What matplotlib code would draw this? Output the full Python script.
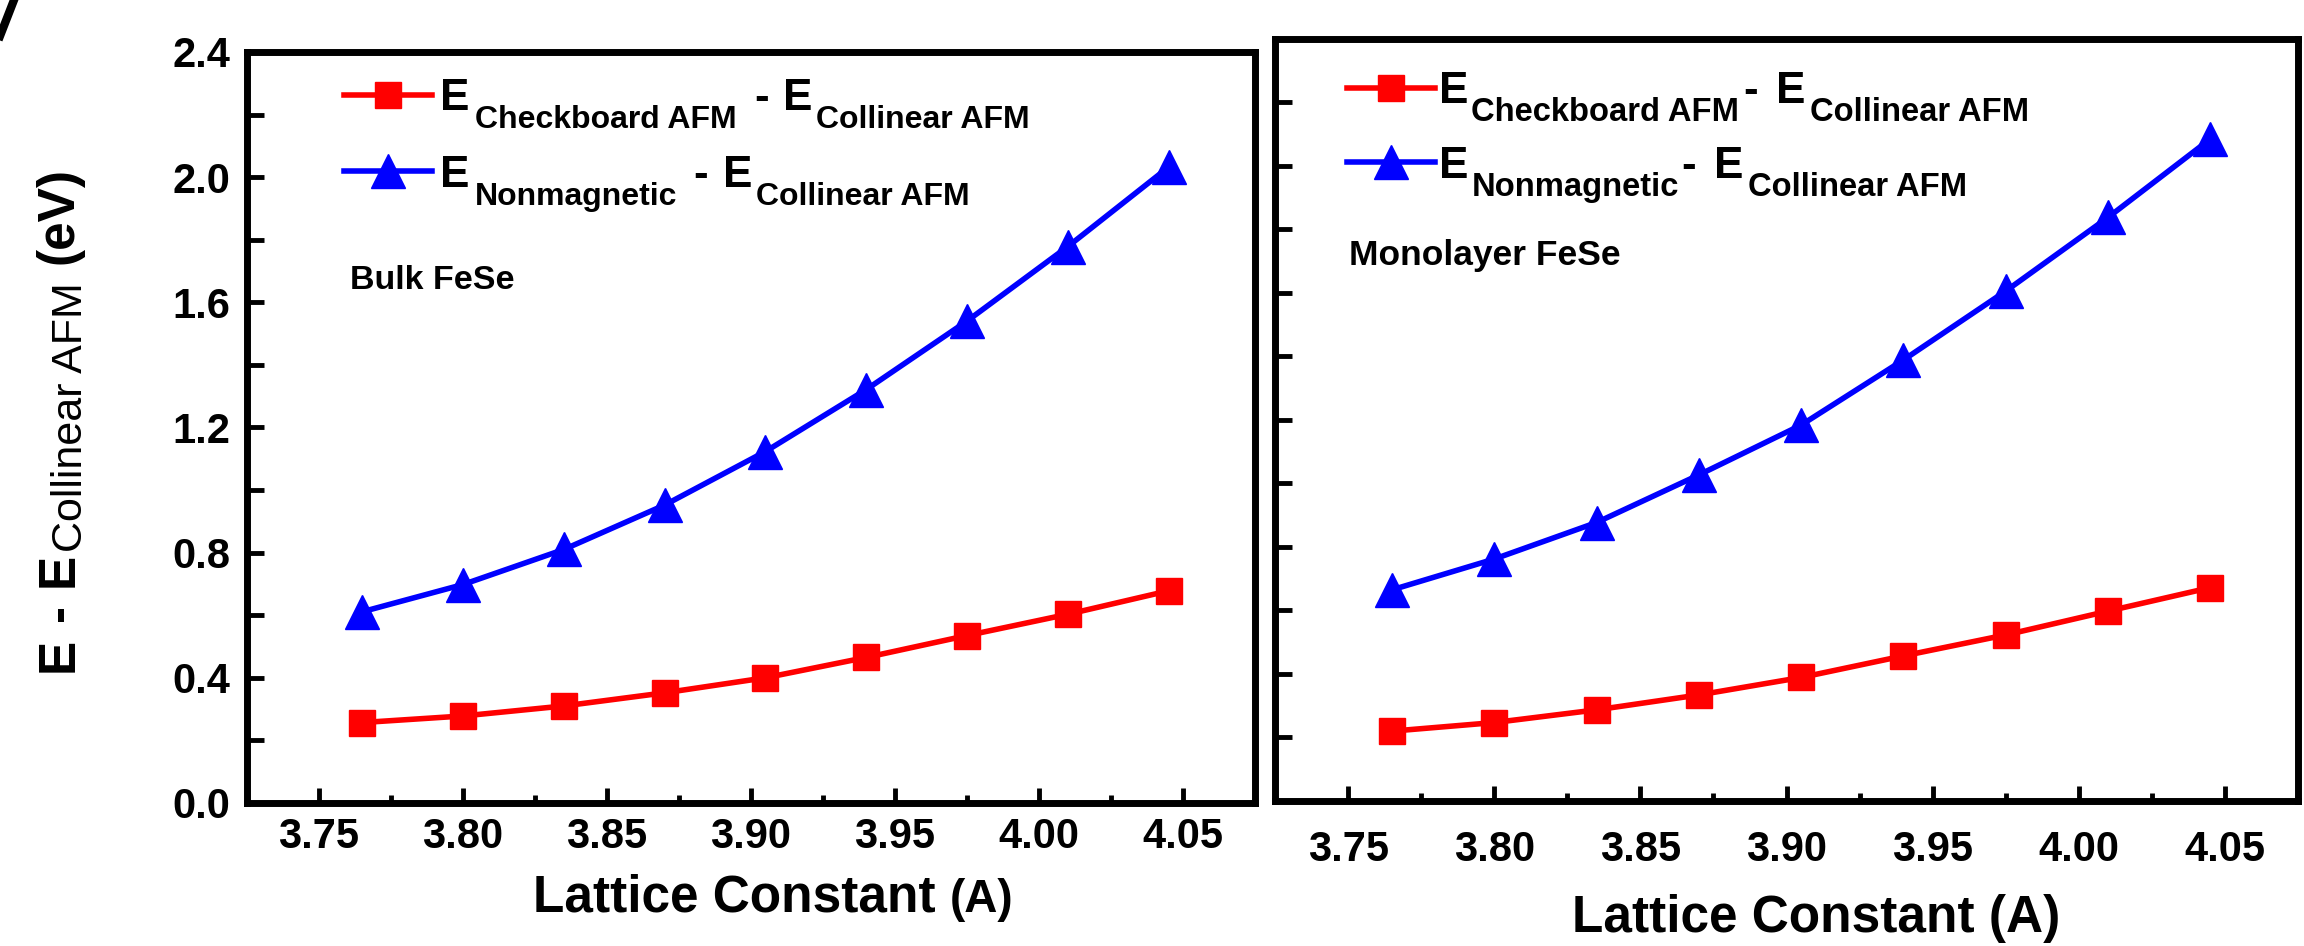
import matplotlib.pyplot as plt
from matplotlib.lines import Line2D
from matplotlib.ticker import MultipleLocator, FormatStrFormatter

plt.rcParams['font.family'] = ['Liberation Sans', 'DejaVu Sans']
plt.rcParams['font.weight'] = 'bold'

# lattice constant (A)
lattice = [3.765, 3.800, 3.835, 3.870, 3.905, 3.940, 3.975, 4.010, 4.045]

# bulk FeSe (eV)
bulk_checker = [0.257, 0.278, 0.310, 0.352, 0.400, 0.465, 0.535, 0.603, 0.678]
bulk_nonmag = [0.611, 0.698, 0.810, 0.952, 1.123, 1.321, 1.540, 1.778, 2.032]

# monolayer FeSe (eV)
mono_checker = [0.220, 0.247, 0.287, 0.334, 0.389, 0.457, 0.523, 0.598, 0.672]
mono_nonmag = [0.665, 0.762, 0.877, 1.027, 1.184, 1.389, 1.606, 1.838, 2.085]

x_ticks = [3.75, 3.80, 3.85, 3.90, 3.95, 4.00, 4.05]
y_ticks = [0.0, 0.4, 0.8, 1.2, 1.6, 2.0, 2.4]

# legend pieces after the leading "E": (text, size, dx pt, dy pt)
leg_bulk = [
    [('Checkboard AFM', 23, 4, -11.5), ('-', 31.7, 13, 0), ('E', 31.7, 10, 0),
     ('Collinear AFM', 23, 3, -11.5)],
    [('Nonmagnetic', 23, 4, -11.5), ('-', 31.7, 11.5, 0), ('E', 31.7, 11, 0),
     ('Collinear AFM', 23, 3, -11.5)],
]
leg_mono = [
    [('Checkboard AFM', 23.6, 2, -11.5), ('-', 31.7, 3, 0), ('E', 31.7, 13, 0),
     ('Collinear AFM', 23.6, 3, -11.5)],
    [('Nonmagnetic', 23.6, 2, -11.5), ('-', 31.7, 2, 0), ('E', 31.7, 13, 0),
     ('Collinear AFM', 23.6, 3, -11.5)],
]

# y label pieces after the first "E": (text, size, dx pt, gap pt, weight)
ylab_pieces = [('-', 37, 0, 12, 'bold'),
               ('E', 37, 0, 12, 'bold'),
               ('Collinear AFM', 31, 6.5, 1, 'normal'),
               ('(eV)', 37, 0, 13, 'bold')]


def style(ax):
    ax.set_xlim(3.725, 4.075)
    ax.set_ylim(0, 2.4)
    ax.set_xticks(x_ticks)
    ax.set_yticks(y_ticks)
    ax.xaxis.set_minor_locator(MultipleLocator(0.025))
    ax.yaxis.set_minor_locator(MultipleLocator(0.2))
    ax.xaxis.set_major_formatter(FormatStrFormatter('%.2f'))
    ax.yaxis.set_major_formatter(FormatStrFormatter('%.1f'))
    ax.tick_params(which='both', direction='in', top=False, right=False, width=3.5)
    ax.tick_params(axis='x', which='major', length=11)
    ax.tick_params(axis='x', which='minor', length=6)
    ax.tick_params(axis='y', which='both', length=12)
    for s in ax.spines.values():
        s.set_linewidth(5)


def legend_text(ax, leg, rows):
    # chain the subscripted label after each legend "E"
    for anchor, pieces in zip(leg.get_texts(), rows):
        prev = anchor
        for s, size, dx, dy in pieces:
            prev = ax.annotate(s, xy=(1, 0), xycoords=(prev, anchor),
                               xytext=(dx, dy), textcoords='offset points',
                               ha='left', va='bottom', fontsize=size,
                               fontweight='bold', zorder=6)


fig = plt.figure(figsize=(23.04, 9.46), dpi=100)
ax1 = fig.add_axes([0.1072, 0.1512, 0.4375, 0.7939])
ax2 = fig.add_axes([0.5534, 0.1533, 0.4440, 0.8055])

# left: bulk
l1, = ax1.plot(lattice, bulk_checker, color='#ff0000', lw=4, marker='s', ms=19)
l2, = ax1.plot(lattice, bulk_nonmag, color='#0000ff', lw=4, marker='^', ms=24)
style(ax1)
ax1.tick_params(axis='x', labelsize=30, pad=10)
ax1.tick_params(axis='y', labelsize=30, pad=12)
leg1 = ax1.legend([l1, l2], ['E', 'E'], loc='upper left', bbox_to_anchor=(0.096, 0.9647),
                  borderaxespad=0, borderpad=0, frameon=False, fontsize=31.7,
                  handlelength=2.0, handletextpad=0.18, labelspacing=0.80)
legend_text(ax1, leg1, leg_bulk)
ax1.text(0.102, 0.685, 'Bulk FeSe', transform=ax1.transAxes, fontsize=24.5,
         fontweight='bold', va='baseline', ha='left')
ax1.text(0.6835, -0.145, 'Lattice Constant', transform=ax1.transAxes, fontsize=37,
         fontweight='bold', ha='right', va='baseline')
ax1.text(0.6974, -0.145, '(A)', transform=ax1.transAxes, fontsize=33,
         fontweight='bold', ha='left', va='baseline')

# right: monolayer
m1, = ax2.plot(lattice, mono_checker, color='#ff0000', lw=4, marker='s', ms=19)
m2, = ax2.plot(lattice, mono_nonmag, color='#0000ff', lw=4, marker='^', ms=24)
style(ax2)
ax2.tick_params(axis='x', labelsize=30, pad=21)
ax2.tick_params(axis='y', labelleft=False)
leg2 = ax2.legend([m1, m2], ['E', 'E'], loc='upper left', bbox_to_anchor=(0.070, 0.958),
                  borderaxespad=0, borderpad=0, frameon=False, fontsize=31.7,
                  handlelength=2.0, handletextpad=0.1, labelspacing=0.77)
legend_text(ax2, leg2, leg_mono)
ax2.text(0.072, 0.703, 'Monolayer FeSe', transform=ax2.transAxes, fontsize=25.5,
         fontweight='bold', va='baseline', ha='left')
ax2.text(0.529, -0.172, 'Lattice Constant (A)', transform=ax2.transAxes, fontsize=37,
         fontweight='bold', ha='center', va='baseline')

# y label, drawn bottom to top
yx = 73 / 2304
prev = fig.text(yx, 1 - 672 / 946, 'E', rotation=90, rotation_mode='anchor',
                ha='left', va='baseline', fontsize=37, fontweight='bold')
for s, size, dx, gap, wt in ylab_pieces:
    prev = ax1.annotate(s, xy=(yx, 1), xycoords=(fig.transFigure, prev),
                        xytext=(dx, gap), textcoords='offset points', rotation=90,
                        rotation_mode='anchor', ha='left', va='baseline',
                        fontsize=size, fontweight=wt)

# clipped stroke at the top-left corner
fig.add_artist(Line2D([0, 14 / 2304], [1 - 36 / 946, 1], color='black', lw=6))

fig.savefig('out.png', dpi=100)
